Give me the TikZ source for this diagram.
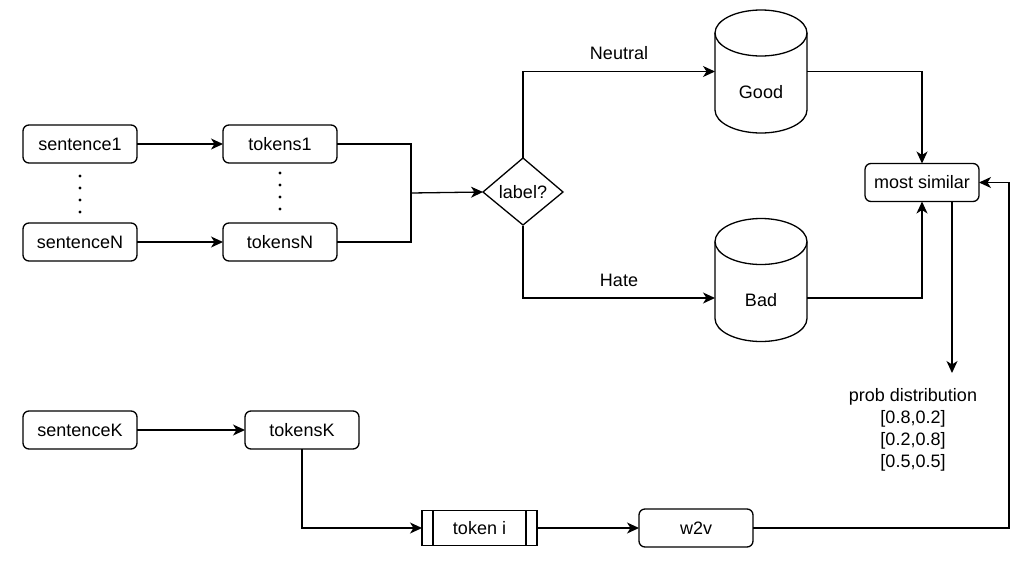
\documentclass[tikz,border=0pt]{standalone}
\usepackage{fontspec}
\setmainfont{Liberation Sans}
\usetikzlibrary{arrows.meta,calc}
\begin{document}
\begin{tikzpicture}[x=1pt,y=-1pt,
  every node/.style={font=\fontsize{18}{22}\selectfont},
  box/.style={draw,rounded corners=6pt,line width=1.3pt,minimum width=114pt,minimum height=38pt,inner sep=0pt,outer sep=0pt},
  procbox/.style={draw,line width=1.3pt,minimum width=115pt,minimum height=35pt,inner sep=0pt,outer sep=0pt},
  decision/.style={draw,line width=1.3pt,inner sep=0pt,outer sep=0pt},
  cylnode/.style={minimum width=92pt,minimum height=123pt,inner sep=0pt,outer sep=0pt},
  conn/.style={line width=1.3pt},
  arr/.style={conn,-{Stealth[length=12pt,width=11pt,inset=3.5pt]}},
  elabel/.style={above=8pt,inner sep=3pt}
]
\path[use as bounding box] (0,0) rectangle (1022,560);

% left part
\node[box] (s1) at (80,144) {sentence1};
\node[box] (sN) at (80,242) {sentenceN};
\node[box] (t1) at (280,144) {tokens1};
\node[box] (tN) at (280,242) {tokensN};
\foreach \yy in {176,188,200,212} \fill (80,\yy) circle (1.6pt);
\foreach \yy in {173,185,197,209} \fill (280,\yy) circle (1.6pt);

\draw[arr] (s1) -- (t1);
\draw[arr] (sN) -- (tN);

% decision
\draw[decision] (483,192) -- (523,158) -- (563,192) -- (523,225) -- cycle;
\node[minimum width=80pt,minimum height=67pt,inner sep=0pt,outer sep=0pt] (lab) at (523,192) {label?};

\coordinate (m) at (411,193);
\draw[conn] (t1.east) -| (m);
\draw[conn] (tN.east) -| (m);
\draw[arr] (m) -- (lab.west);

% cylinders
\node[cylnode] (good) at (761,71.5) {};
\node[cylnode] (bad) at (761,280) {};
\foreach \c in {good,bad}{
  \draw[line width=1.3pt] ([yshift=-23pt]\c.north west) -- ([yshift=23pt]\c.south west)
     arc(180:360:46pt and 23pt) -- ([yshift=-23pt]\c.north east)
     arc(0:180:46pt and 23pt) -- cycle;
  \draw[line width=1.3pt] ([yshift=-23pt]\c.north west) arc(180:360:46pt and 23pt);
}
\node (goodtxt) at (761,92) {Good};
\node (badtxt) at (761,300) {Bad};

\draw[arr] (lab.north) |- node[elabel,pos=0.75] {Neutral} (good.west);
\draw[arr] (lab.south) |- node[elabel,pos=0.75] {Hate} ([yshift=-18pt]bad.west);

% most similar
\node[box] (msim) at (922,182.5) {most similar};
\draw[arr] (good.east) -| (msim.north);
\draw[arr] ([yshift=-18pt]bad.east) -| (msim.south);

\node[align=center,inner sep=0pt,font=\fontsize{18}{22}\selectfont] (prob) at (913,430) {prob distribution\\{}[0.8,0.2]\\{}[0.2,0.8]\\{}[0.5,0.5]};
\coordinate (pd) at (952,373);
\draw[arr] ([xshift=30pt]msim.south) -- (pd);

% bottom part
\node[box] (sK) at (80,430) {sentenceK};
\node[box] (tK) at (302,430) {tokensK};
\draw[arr] (sK) -- (tK);

\node[procbox] (ti) at (479.5,528) {token i};
\draw[line width=1.3pt] ([xshift=11pt]ti.north west) -- ([xshift=11pt]ti.south west);
\draw[line width=1.3pt] ([xshift=-11pt]ti.north east) -- ([xshift=-11pt]ti.south east);
\draw[arr] (tK.south) |- (ti.west);

\node[box] (w2v) at (696,528) {w2v};
\draw[arr] (ti) -- (w2v);

\coordinate (r) at (1009,528);
\draw[arr] (w2v.east) -- (r) |- (msim.east);
\end{tikzpicture}
\end{document}
